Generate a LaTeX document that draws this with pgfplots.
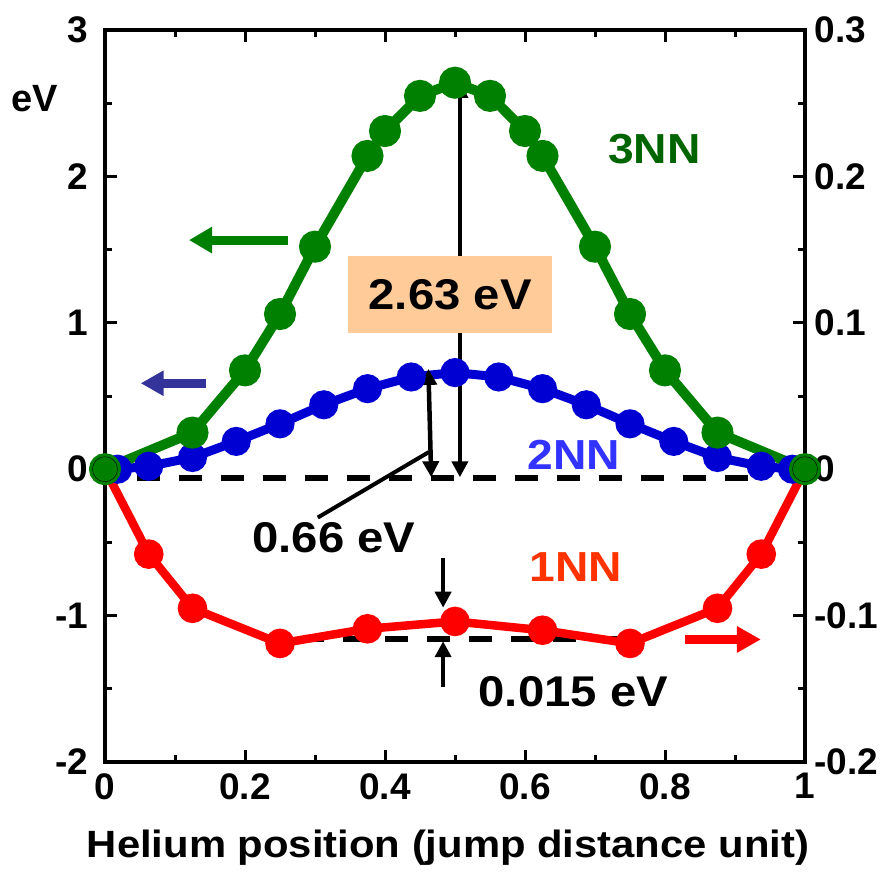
\documentclass[border=0pt]{standalone}
\usepackage{pgfplots}
\pgfplotsset{compat=1.18}
\usepackage{fontspec}
\setmainfont{Liberation Sans}
\newfontfamily\wide[FakeStretch=1.1]{Liberation Sans}
\usetikzlibrary{arrows.meta}
\definecolor{gline}{RGB}{0,128,0}
\definecolor{bline}{RGB}{0,0,210}
\definecolor{rline}{RGB}{255,0,0}
\definecolor{gtext}{RGB}{0,100,0}
\definecolor{btext}{RGB}{51,51,255}
\definecolor{rtext}{RGB}{255,51,0}
\definecolor{barrow}{RGB}{51,51,153}
\definecolor{boxfill}{RGB}{255,204,153}
\newcommand{\fs}[1]{\fontsize{#1}{#1}\selectfont\bfseries}
\newcommand{\ws}[1]{\wide\fontsize{#1}{#1}\selectfont\bfseries}
\begin{document}
\begin{tikzpicture}
\useasboundingbox (-105pt,-117pt) rectangle (788pt,762pt);
% ---------- right axis (1NN) ----------
\begin{axis}[at={(0,0)},anchor=south west,scale only axis,
  width=700pt,height=732pt,
  xmin=0,xmax=1,ymin=-0.2,ymax=0.3,
  axis x line=none, axis y line*=right,
  axis line style={line width=4pt,-},
  ytick={-0.2,-0.1,0,0.1,0.2,0.3},
  yticklabels={-0.2,-0.1,0,0.1,0.2,0.3},
  minor ytick={-0.15,-0.05,0.05,0.15,0.25},
  tick align=inside, major tick length=12pt, minor tick length=7pt,
  every tick/.style={line width=3pt,black},
  yticklabel style={font=\fs{37},xshift=6pt},
  clip=false]
\addplot[black, line width=6pt, dash pattern=on 23pt off 19pt] coordinates {(0.28,-0.1159) (0.738,-0.1159)};
\addplot[rline, line width=8.5pt, mark=*, mark size=10.5pt, mark options={draw=none,fill=rline}] coordinates {
(0,0) (0.0625,-0.058) (0.125,-0.095) (0.25,-0.119) (0.375,-0.109) (0.5,-0.104)
(0.625,-0.110) (0.75,-0.119) (0.875,-0.095) (0.9375,-0.058) (1,0)};
\draw[line width=4.5pt,-{Triangle[length=16pt,width=16pt]}] (axis cs:0.483,-0.0605) -- (axis cs:0.483,-0.0946);
\draw[line width=4.5pt,-{Triangle[length=16pt,width=16pt]}] (axis cs:0.483,-0.149) -- (axis cs:0.483,-0.1175);
\draw[rline,line width=9pt,-{Triangle[length=24pt,width=25pt]}] (axis cs:0.829,-0.1163) -- (axis cs:0.937,-0.1163);
\node[text=rtext,font=\ws{42}] at (axis cs:0.673,-0.0667) {1NN};
\node[font=\ws{43}] at (axis cs:0.669,-0.152) {0.015 eV};
\end{axis}
% ---------- left axis (2NN, 3NN) ----------
\begin{axis}[at={(0,0)},anchor=south west,scale only axis,
  width=700pt,height=732pt,
  xmin=0,xmax=1,ymin=-2,ymax=3,
  axis line style={line width=4pt},
  ytick pos=left, xtick pos=both, xticklabel pos=lower,
  xtick={0,0.2,0.4,0.6,0.8,1}, xticklabels={0,0.2,0.4,0.6,0.8,1},
  minor xtick={0.1,0.3,0.5,0.7,0.9},
  ytick={-2,-1,0,1,2,3}, yticklabels={-2,-1,0,1,2,3},
  minor ytick={-1.5,-0.5,0.5,1.5,2.5},
  tick align=inside, major tick length=12pt, minor tick length=7pt,
  every tick/.style={line width=3pt,black},
  yticklabel style={font=\fs{37},xshift=-13pt},
  xticklabel style={font=\fs{37},yshift=-8pt},
  xlabel={Helium position (jump distance unit)},
  xlabel style={font=\ws{38},at={(axis description cs:0.49,0)},anchor=base,yshift=-95pt},
  clip=false]
\addplot[black, line width=6pt, dash pattern=on 23pt off 19pt] coordinates {(0.045,-0.063) (0.93,-0.063)};
\addplot[bline, line width=9pt, mark=*, mark size=10pt, mark options={draw=none,fill=bline}] coordinates {
(0.018,0) (0.0625,0.02) (0.125,0.08) (0.1875,0.19) (0.25,0.31) (0.3125,0.44) (0.375,0.55) (0.4375,0.63) (0.5,0.66)
(0.5625,0.63) (0.625,0.55) (0.6875,0.44) (0.75,0.31) (0.8125,0.19) (0.875,0.08) (0.9375,0.02) (0.982,0)};
\addplot[gline, line width=10pt, mark=*, mark size=11pt, mark options={draw=none,fill=gline}] coordinates {
(0,0) (0.125,0.25) (0.2,0.675) (0.25,1.06) (0.3,1.52) (0.375,2.14) (0.4,2.31) (0.45,2.55) (0.5,2.64)
(0.55,2.55) (0.6,2.31) (0.625,2.14) (0.7,1.52) (0.75,1.06) (0.8,0.675) (0.875,0.25) (1,0)};
\addplot[only marks, mark=*, mark size=12.5pt, mark options={draw=none,fill=gline}] coordinates {(0,0) (1,0)};
% arrows
\draw[line width=4.5pt,{Triangle[length=16pt,width=16pt]}-{Triangle[length=16pt,width=16pt]}] (axis cs:0.507,-0.055) -- (axis cs:0.507,2.645);
\draw[line width=4.5pt,{Triangle[length=16pt,width=16pt]}-{Triangle[length=16pt,width=16pt]}] (axis cs:0.466,-0.055) -- (axis cs:0.462,0.685);
\draw[line width=4pt] (axis cs:0.463,0.118) -- (axis cs:0.304,-0.33);
\node[fill=boxfill, minimum width=204pt, minimum height=77pt, inner sep=0pt, font=\ws{43}] at (axis cs:0.493,1.194) {2.63 eV};
\draw[gline,line width=9pt,-{Triangle[length=23pt,width=25pt]}] (axis cs:0.262,1.565) -- (axis cs:0.12,1.565);
\draw[barrow,line width=9pt,-{Triangle[length=23pt,width=24pt]}] (axis cs:0.144,0.587) -- (axis cs:0.051,0.587);
% labels
\node[text=gtext,font=\ws{42}] at (axis cs:0.785,2.186) {3NN};
\node[text=btext,font=\ws{42}] at (axis cs:0.67,0.10) {2NN};
\node[font=\ws{43}] at (axis cs:0.327,-0.466) {0.66 eV};
\node[font=\fs{38}] at (axis cs:-0.1,2.53) {eV};
\end{axis}
\end{tikzpicture}
\end{document}
